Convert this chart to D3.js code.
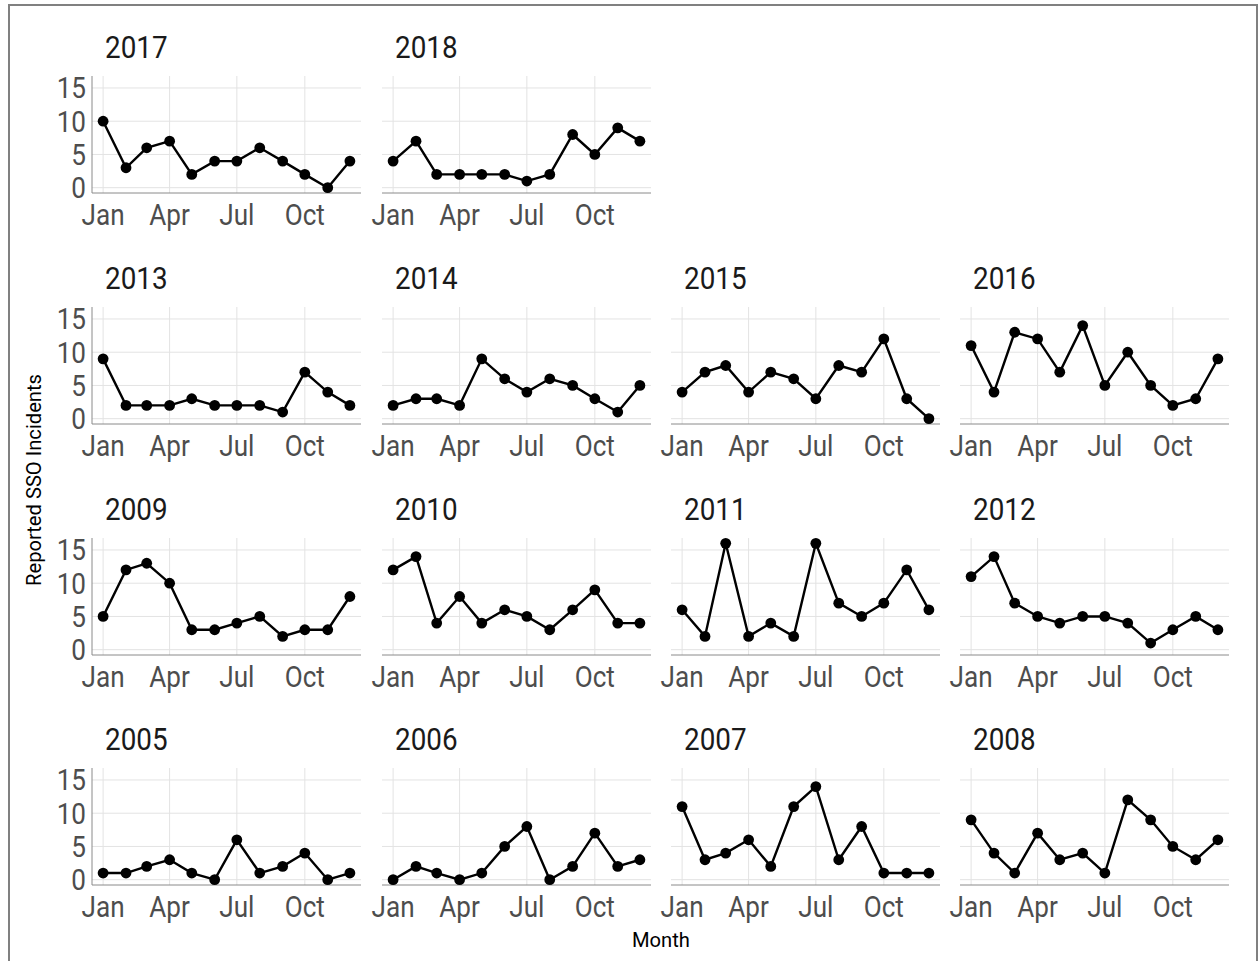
<!DOCTYPE html>
<html>
<head>
<meta charset="utf-8">
<script src="https://cdn.jsdelivr.net/npm/d3@7"></script>
<style>
  body { margin: 0; background: #fff; }
  svg { display: block; font-family: Roboto, "Noto Sans", sans-serif; }
</style>
</head>
<body>
<svg id="chart" width="1259" height="961"></svg>
<script>
// monthly reported SSO incidents, Jan..Dec
const months = ["Jan", "Feb", "Mar", "Apr", "May", "Jun", "Jul", "Aug", "Sep", "Oct", "Nov", "Dec"];
const tickMonths = ["Jan", "Apr", "Jul", "Oct"];
const yTicks = [0, 5, 10, 15];

const y2005 = [1, 1, 2, 3, 1, 0, 6, 1, 2, 4, 0, 1];
const y2006 = [0, 2, 1, 0, 1, 5, 8, 0, 2, 7, 2, 3];
const y2007 = [11, 3, 4, 6, 2, 11, 14, 3, 8, 1, 1, 1];
const y2008 = [9, 4, 1, 7, 3, 4, 1, 12, 9, 5, 3, 6];
const y2009 = [5, 12, 13, 10, 3, 3, 4, 5, 2, 3, 3, 8];
const y2010 = [12, 14, 4, 8, 4, 6, 5, 3, 6, 9, 4, 4];
const y2011 = [6, 2, 16, 2, 4, 2, 16, 7, 5, 7, 12, 6];
const y2012 = [11, 14, 7, 5, 4, 5, 5, 4, 1, 3, 5, 3];
const y2013 = [9, 2, 2, 2, 3, 2, 2, 2, 1, 7, 4, 2];
const y2014 = [2, 3, 3, 2, 9, 6, 4, 6, 5, 3, 1, 5];
const y2015 = [4, 7, 8, 4, 7, 6, 3, 8, 7, 12, 3, 0];
const y2016 = [11, 4, 13, 12, 7, 14, 5, 10, 5, 2, 3, 9];
const y2017 = [10, 3, 6, 7, 2, 4, 4, 6, 4, 2, 0, 4];
const y2018 = [4, 7, 2, 2, 2, 2, 1, 2, 8, 5, 9, 7];

// facet order (bottom-up wrap like ggplot as.table = FALSE)
const panels = [
  { year: "2017", values: y2017 }, { year: "2018", values: y2018 },
  { year: "2013", values: y2013 }, { year: "2014", values: y2014 },
  { year: "2015", values: y2015 }, { year: "2016", values: y2016 },
  { year: "2009", values: y2009 }, { year: "2010", values: y2010 },
  { year: "2011", values: y2011 }, { year: "2012", values: y2012 },
  { year: "2005", values: y2005 }, { year: "2006", values: y2006 },
  { year: "2007", values: y2007 }, { year: "2008", values: y2008 }
];
const rowOf = [0, 0, 1, 1, 1, 1, 2, 2, 2, 2, 3, 3, 3, 3];
const colOf = [0, 1, 0, 1, 2, 3, 0, 1, 2, 3, 0, 1, 2, 3];

const svg = d3.select("#chart");

const panelW = 269, panelH = 117;
const colX = [92, 382, 671, 960];
const rowY = [76, 307, 538, 768];

// condensed look: squeeze text horizontally
function squeeze(sel, k) {
  sel.each(function() {
    const len = this.getComputedTextLength();
    d3.select(this).attr("textLength", len * k).attr("lengthAdjust", "spacingAndGlyphs");
  });
}

// outer frame
svg.append("path")
  .attr("d", "M9,970 V5 H1257 V970")
  .attr("fill", "none")
  .attr("stroke", "#808080")
  .attr("stroke-width", 2);

// common scales (shared across facets)
const mDate = i => new Date(2001, i, 1);
const x = d3.scaleTime()
  .domain([mDate(0), mDate(11)])
  .range([0, panelW]);
{
  const d0 = mDate(0).getTime(), d1 = mDate(11).getTime(), pad = (d1 - d0) * 0.045;
  x.domain([new Date(d0 - pad), new Date(d1 + pad)]);
}
const yMax = 16;
const y = d3.scaleLinear()
  .domain([-yMax * 0.05, yMax * 1.05])
  .range([panelH, 0]);

const line = d3.line()
  .x((d, i) => x(mDate(i)))
  .y(d => y(d));

panels.forEach((p, k) => {
  const r = rowOf[k], c = colOf[k];
  const g = svg.append("g").attr("transform", `translate(${colX[c]},${rowY[r]})`);

  // grid
  g.selectAll(".hgrid")
    .data(yTicks)
    .enter().append("line")
    .attr("x1", 0).attr("x2", panelW)
    .attr("y1", d => y(d)).attr("y2", d => y(d))
    .attr("stroke", "#e3e3e3").attr("stroke-width", 1);
  g.selectAll(".vgrid")
    .data(tickMonths)
    .enter().append("line")
    .attr("x1", d => x(mDate(months.indexOf(d))))
    .attr("x2", d => x(mDate(months.indexOf(d))))
    .attr("y1", 0).attr("y2", panelH)
    .attr("stroke", "#e3e3e3").attr("stroke-width", 1);

  // axis lines
  g.append("line")
    .attr("x1", 0).attr("x2", panelW)
    .attr("y1", panelH).attr("y2", panelH)
    .attr("stroke", "#8a8a8a").attr("stroke-width", 1);
  if (c === 0) {
    g.append("line")
      .attr("x1", 0).attr("x2", 0)
      .attr("y1", 0).attr("y2", panelH)
      .attr("stroke", "#8a8a8a").attr("stroke-width", 1);
    const yl = g.selectAll(".ylab")
      .data(yTicks)
      .enter().append("text")
      .attr("x", -6)
      .attr("y", d => y(d))
      .attr("dy", "0.36em")
      .attr("text-anchor", "end")
      .attr("font-size", 29)
      .attr("fill", "#4d4d4d")
      .text(d => d);
    squeeze(yl, 0.9);
  }

  // x tick labels
  const xl = g.selectAll(".xlab")
    .data(tickMonths)
    .enter().append("text")
    .attr("x", d => x(mDate(months.indexOf(d))))
    .attr("y", panelH + 32)
    .attr("text-anchor", "middle")
    .attr("font-size", 29)
    .attr("fill", "#4d4d4d")
    .text(d => d);
  squeeze(xl, 0.9);

  // strip title
  const t = g.append("text")
    .attr("x", 13)
    .attr("y", -18)
    .attr("font-size", 32)
    .attr("fill", "#1a1a1a")
    .text(p.year);
  squeeze(t, 0.87);

  // series
  g.append("path")
    .datum(p.values)
    .attr("d", line)
    .attr("fill", "none")
    .attr("stroke", "#000")
    .attr("stroke-width", 2.4);
  g.selectAll(".pt")
    .data(p.values)
    .enter().append("circle")
    .attr("cx", (d, i) => x(mDate(i)))
    .attr("cy", d => y(d))
    .attr("r", 5.4)
    .attr("fill", "#000");
});

// axis titles
const yt = svg.append("text")
  .attr("transform", "translate(41,480) rotate(-90)")
  .attr("text-anchor", "middle")
  .attr("font-size", 21)
  .attr("fill", "#000")
  .text("Reported SSO Incidents");
squeeze(yt, 0.96);

const xt = svg.append("text")
  .attr("x", 661)
  .attr("y", 947)
  .attr("text-anchor", "middle")
  .attr("font-size", 21)
  .attr("fill", "#000")
  .text("Month");
squeeze(xt, 0.96);
</script>
</body>
</html>
